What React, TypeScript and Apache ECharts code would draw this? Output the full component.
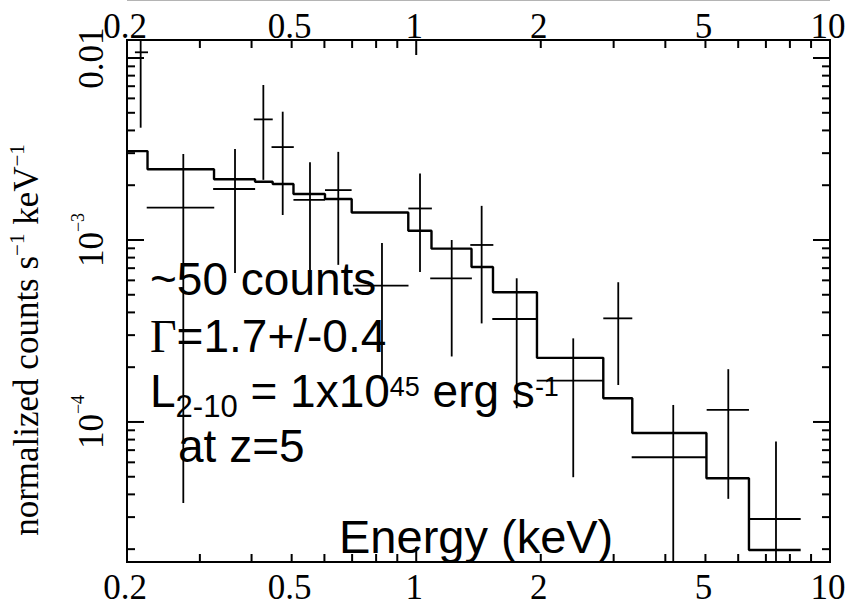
import React, { useEffect, useRef } from "react";
import * as echarts from "echarts";

// ---- data points (energy in keV, normalized counts s^-1 keV^-1) ----
const energyMid = [0.2158, 0.2736, 0.3648, 0.4271, 0.4757, 0.5537, 0.6481, 0.8265, 1.0213, 1.2183, 1.4392, 1.7492, 2.396, 3.078, 4.18, 5.678, 7.404];
const energyLo = [0.209, 0.2232, 0.323, 0.405, 0.447, 0.505, 0.602, 0.703, 0.957, 1.081, 1.351, 1.527, 1.955, 2.832, 3.317, 5.034, 6.37];
const energyHi = [0.2248, 0.325, 0.408, 0.45, 0.506, 0.602, 0.698, 0.958, 1.091, 1.363, 1.536, 1.955, 2.832, 3.328, 5.014, 6.37, 8.494];
const rate = [0.01075, 1.505e-3, 1.906e-3, 4.6e-3, 3.24e-3, 1.66e-3, 1.88e-3, 5.61e-4, 1.49e-3, 6.16e-4, 9.39e-4, 3.68e-4, 1.687e-4, 3.71e-4, 6.4e-5, 1.164e-4, 2.93e-5];
const rateHi = [0.0126, 2.97e-3, 3.16e-3, 7.11e-3, 5.07e-3, 2.67e-3, 3.05e-3, 9.63e-4, 2.32e-3, 1.0e-3, 1.54e-3, 6.16e-4, 2.88e-4, 5.86e-4, 1.24e-4, 1.95e-4, 7.8e-5];
const rateLo = [4.14e-3, 3.59e-5, 6.59e-4, 2.14e-3, 1.372e-3, 6.59e-4, 7.3e-4, 1.77e-4, 6.67e-4, 2.29e-4, 3.48e-4, 1.19e-4, 4.97e-5, 1.596e-4, 1.7e-5, 3.78e-5, 1.7e-5];

// ---- model (step histogram) ----
const modelEdges = [0.2, 0.2242, 0.3246, 0.4078, 0.4499, 0.5051, 0.6019, 0.6983, 0.9568, 1.0887, 1.3603, 1.533, 1.958, 2.832, 3.328, 5.028, 6.37, 8.494];
const modelRate = [3.08e-3, 2.446e-3, 2.156e-3, 2.09e-3, 2.03e-3, 1.79e-3, 1.68e-3, 1.416e-3, 1.124e-3, 8.96e-4, 7.11e-4, 5.16e-4, 2.25e-4, 1.35e-4, 8.7e-5, 4.91e-5, 1.98e-5];

// ---- axes ----
const X_MIN = 0.2;
const X_MAX = 10;
const Y_MIN = 1.7e-5;
const Y_MAX = 0.01256;
const xMajorTicks = [1, 10];
const xMinorTicks = [0.3, 0.4, 0.5, 0.6, 0.7, 0.8, 0.9, 2, 3, 4, 5, 6, 7, 8, 9];
const yMajorTicks = [1e-4, 1e-3, 1e-2];
const yMinorTicks = [2e-5, 3e-5, 4e-5, 5e-5, 6e-5, 7e-5, 8e-5, 9e-5, 2e-4, 3e-4, 4e-4, 5e-4, 6e-4, 7e-4, 8e-4, 9e-4, 2e-3, 3e-3, 4e-3, 5e-3, 6e-3, 7e-3, 8e-3, 9e-3];
const xTickLabelValues = [0.2, 0.5, 1, 2, 5, 10];
const xTickLabels = ["0.2", "0.5", "1", "2", "5", "10"];
const yTickLabelValues = [1e-2, 1e-3, 1e-4];
const yTickLabelMain = ["0.01", "10", "10"];
const yTickLabelExp = ["", "\u22123", "\u22124"];

const SERIF = "'Liberation Serif', 'Times New Roman', serif";
const SANS = "'Liberation Sans', Arial, Helvetica, sans-serif";
const SANS_FS = 46;
const SANS_OFF = 0.3465 * SANS_FS;
const TICK_FS = 35;
const SERIF_OFF = 0.3375;

export default function App() {
  const ref = useRef<HTMLDivElement>(null);

  useEffect(() => {
    if (!ref.current) return;
    const chart = echarts.init(ref.current, null, { renderer: "svg" });

    const xTickData = [
      ...xMajorTicks.map((v) => [v, 1e-3, 1]),
      ...xMinorTicks.map((v) => [v, 1e-3, 0]),
    ];
    const yTickData = [
      ...yMajorTicks.map((v) => [1, v, 1]),
      ...yMinorTicks.map((v) => [1, v, 0]),
    ];
    const modelData = modelEdges.map((e, i) => [e, modelRate[Math.min(i, modelRate.length - 1)]]);
    const pointData = energyMid.map((e, i) => [e, rate[i], energyLo[i], energyHi[i], rateLo[i], rateHi[i]]);

    const option: any = {
      animation: false,
      backgroundColor: "#ffffff",
      grid: {
        left: 127,
        top: 40,
        width: 703,
        height: 522,
        show: true,
        borderColor: "#000",
        borderWidth: 2,
        backgroundColor: "transparent",
      },
      xAxis: {
        type: "log",
        logBase: 10,
        min: X_MIN,
        max: X_MAX,
        axisLine: { show: false },
        axisTick: { show: false },
        axisLabel: { show: false },
        splitLine: { show: false },
      },
      yAxis: {
        type: "log",
        logBase: 10,
        min: Y_MIN,
        max: Y_MAX,
        axisLine: { show: false },
        axisTick: { show: false },
        axisLabel: { show: false },
        splitLine: { show: false },
      },
      series: [
        {
          name: "model",
          type: "line",
          step: "end",
          data: modelData,
          symbol: "none",
          lineStyle: { color: "#000", width: 2.4 },
          z: 2,
        },
        {
          name: "data",
          type: "custom",
          clip: false,
          data: pointData,
          encode: { x: 0, y: 1 },
          z: 3,
          renderItem: (params: any, api: any) => {
            const cs = params.coordSys;
            const xc = api.value(0);
            const y = api.value(1);
            const pC = api.coord([xc, y]);
            const pL = api.coord([api.value(2), y]);
            const pR = api.coord([api.value(3), y]);
            const pB = api.coord([xc, api.value(4)]);
            const pT = api.coord([xc, api.value(5)]);
            const top = Math.max(pT[1], cs.y);
            const bot = Math.min(pB[1], cs.y + cs.height);
            const st = { stroke: "#000", lineWidth: 1.8 };
            return {
              type: "group",
              children: [
                { type: "line", shape: { x1: pL[0], y1: pC[1], x2: pR[0], y2: pC[1] }, style: st },
                { type: "line", shape: { x1: pC[0], y1: top, x2: pC[0], y2: bot }, style: st },
              ],
            };
          },
        },
        {
          name: "xticks",
          type: "custom",
          clip: false,
          data: xTickData,
          encode: { x: 0, y: 1 },
          z: 4,
          renderItem: (params: any, api: any) => {
            const cs = params.coordSys;
            const px = api.coord([api.value(0), api.value(1)])[0];
            const len = api.value(2) ? 15 : 8;
            const bottom = cs.y + cs.height;
            const st = { stroke: "#000", lineWidth: 2 };
            return {
              type: "group",
              children: [
                { type: "line", shape: { x1: px, y1: bottom, x2: px, y2: bottom - len }, style: st },
                { type: "line", shape: { x1: px, y1: cs.y, x2: px, y2: cs.y + len }, style: st },
              ],
            };
          },
        },
        {
          name: "yticks",
          type: "custom",
          clip: false,
          data: yTickData,
          encode: { x: 0, y: 1 },
          z: 4,
          renderItem: (params: any, api: any) => {
            const cs = params.coordSys;
            const py = api.coord([api.value(0), api.value(1)])[1];
            const len = api.value(2) ? 17 : 8;
            const right = cs.x + cs.width;
            const st = { stroke: "#000", lineWidth: 2 };
            return {
              type: "group",
              children: [
                { type: "line", shape: { x1: cs.x, y1: py, x2: cs.x + len, y2: py }, style: st },
                { type: "line", shape: { x1: right, y1: py, x2: right - len, y2: py }, style: st },
              ],
            };
          },
        },
        {
          name: "xlabels",
          type: "custom",
          clip: false,
          data: xTickLabelValues.map((v) => [v, 1e-3]),
          encode: { x: 0, y: 1 },
          z: 5,
          renderItem: (params: any, api: any) => {
            const cs = params.coordSys;
            const i = params.dataIndex;
            const px = api.coord([api.value(0), api.value(1)])[0] - 2;
            const off = SERIF_OFF * TICK_FS;
            const st = {
              text: xTickLabels[i],
              fontSize: TICK_FS,
              fontFamily: SERIF,
              fill: "#000",
              align: "center",
              verticalAlign: "middle",
            };
            return {
              type: "group",
              children: [
                { type: "text", x: px, y: cs.y - 2 - off, style: { ...st } },
                { type: "text", x: px, y: cs.y + cs.height + 37 - off, style: { ...st } },
              ],
            };
          },
        },
        {
          name: "ylabels",
          type: "custom",
          clip: false,
          data: yTickLabelValues.map((v) => [1, v]),
          encode: { x: 0, y: 1 },
          z: 5,
          renderItem: (params: any, api: any) => {
            const cs = params.coordSys;
            const i = params.dataIndex;
            const py = api.coord([api.value(0), api.value(1)])[1];
            const off = SERIF_OFF * TICK_FS;
            const exp = yTickLabelExp[i];
            const text = exp ? `{m|${yTickLabelMain[i]}}{e|${exp}}` : `{m|${yTickLabelMain[i]}}`;
            return {
              type: "text",
              x: cs.x - 24 - off,
              y: py,
              rotation: Math.PI / 2,
              style: {
                text,
                fill: "#000",
                align: "center",
                verticalAlign: "middle",
                rich: {
                  m: { fontSize: TICK_FS, fontFamily: SERIF, fill: "#000", verticalAlign: "middle" },
                  e: { fontSize: 18, fontFamily: SERIF, fill: "#000", verticalAlign: "middle", padding: [0, 0, 27, 0] },
                },
              },
            };
          },
        },
      ],
      graphic: [
        {
          type: "line",
          shape: { x1: 127, y1: 0.5, x2: 830, y2: 0.5 },
          style: { stroke: "#b4b4b4", lineWidth: 1 },
          silent: true,
        },
        {
          type: "text",
          x: 26,
          y: 340,
          rotation: Math.PI / 2,
          style: {
            text: "{t|normalized counts s}{e|\u22121}{t| keV}{e|\u22121}",
            fill: "#000",
            align: "center",
            verticalAlign: "middle",
            rich: {
              t: { fontSize: 35, fontFamily: SERIF, fill: "#000", verticalAlign: "middle" },
              e: { fontSize: 21, fontFamily: SERIF, fill: "#000", verticalAlign: "middle", padding: [0, 0, 18, 0] },
            },
          },
        },
        {
          type: "text",
          x: 150,
          y: 295 - SANS_OFF,
          style: { text: "~50 counts", fontSize: SANS_FS, fontFamily: SANS, fill: "#000", align: "left", verticalAlign: "middle" },
        },
        {
          type: "text",
          x: 150,
          y: 352 - SANS_OFF,
          style: {
            text: "{g|\u0393}{a|=1.7+/-0.4}",
            fill: "#000",
            align: "left",
            verticalAlign: "middle",
            rich: {
              g: { fontSize: SANS_FS, fontFamily: SERIF, fill: "#000", verticalAlign: "middle" },
              a: { fontSize: SANS_FS, fontFamily: SANS, fill: "#000", verticalAlign: "middle" },
            },
          },
        },
        {
          type: "text",
          x: 150,
          y: 407 - SANS_OFF,
          style: {
            text: "{a|L}{b|2-10}{a| = 1x10}{c|45}{a| erg s}{c|-1}",
            fill: "#000",
            align: "left",
            verticalAlign: "middle",
            rich: {
              a: { fontSize: SANS_FS, fontFamily: SANS, fill: "#000", verticalAlign: "middle" },
              b: { fontSize: 31, fontFamily: SANS, fill: "#000", verticalAlign: "middle", padding: [30, 0, 0, 0] },
              c: { fontSize: 27, fontFamily: SANS, fill: "#000", verticalAlign: "middle", padding: [0, 0, 8, 0] },
            },
          },
        },
        {
          type: "text",
          x: 178,
          y: 462 - SANS_OFF,
          style: { text: "at z=5", fontSize: SANS_FS, fontFamily: SANS, fill: "#000", align: "left", verticalAlign: "middle" },
        },
        {
          type: "text",
          x: 339,
          y: 552 - SANS_OFF,
          style: { text: "Energy (keV)", fontSize: 47, fontFamily: SANS, fill: "#000", align: "left", verticalAlign: "middle" },
        },
      ],
    };

    chart.setOption(option);
    return () => chart.dispose();
  }, []);

  return (
    <div
      ref={ref}
      style={{ position: "absolute", left: 0, top: 0, width: 845, height: 607 }}
    />
  );
}
